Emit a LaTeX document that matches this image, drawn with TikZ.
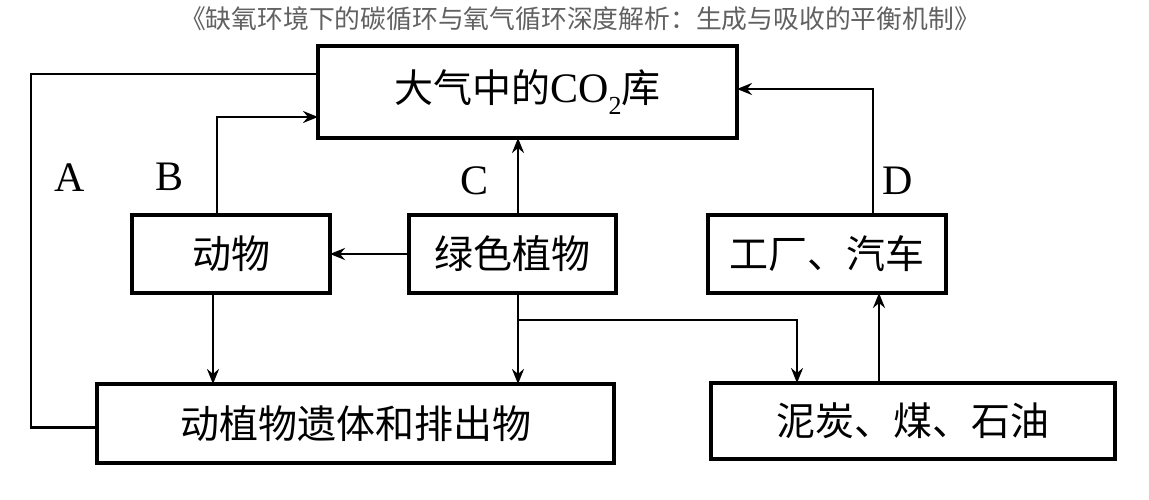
\documentclass[tikz,border=0pt]{standalone}
\usepackage{fontspec}
\setmainfont{Liberation Serif}
\newfontfamily\cjk{Noto Sans CJK SC}
\usetikzlibrary{arrows.meta}
\tikzset{
  box/.style={draw=black, line width=3.2pt, rectangle, inner sep=0pt, outer sep=0pt,
    font=\cjk\fontsize{39}{39}\selectfont, text=black},
  conn/.style={draw=black, line width=2.8pt},
  arr/.style={conn, -{Stealth[length=15pt,width=12pt,inset=5pt]}},
  lab/.style={font=\fontsize{42}{42}\selectfont, text=black, inner sep=0pt},
  ttl/.style={font=\cjk\fontsize{25.8}{26}\selectfont, text=black!62, inner sep=0pt}
}
\begin{document}
\begin{tikzpicture}[x=1pt,y=-1pt]
\useasboundingbox (0,0) rectangle (1149,500);
\node[ttl] (title) at (580,19) {《缺氧环境下的碳循环与氧气循环深度解析：生成与吸收的平衡机制》};
\node[box, minimum width=419pt, minimum height=92pt] (co2) at (527.5,92)
  {大气中的{\rmfamily\fontsize{42}{42}\selectfont CO\raisebox{-0.28em}{\fontsize{26}{26}\selectfont 2}}库};
\node[box, minimum width=198pt, minimum height=78pt] (animal) at (231,254) {动物};
\node[box, minimum width=207pt, minimum height=78pt] (plant) at (512.5,254) {绿色植物};
\node[box, minimum width=238pt, minimum height=78pt] (factory) at (827,254) {工厂、汽车};
\node[box, minimum width=517pt, minimum height=79pt] (remains) at (355.5,423.5) {动植物遗体和排出物};
\node[box, minimum width=404pt, minimum height=76pt] (fossil) at (913,421) {泥炭、煤、石油};

\node[lab] (lA) at (70,178) {A};
\node[lab] (lB) at (170,177) {B};
\node[lab] (lC) at (475,181) {C};
\node[lab] (lD) at (898,181) {D};

% A
\draw[conn] ([yshift=-4pt]remains.west) -- ++(-66,0) |- ([yshift=18pt]co2.west);
% B
\draw[arr] ([xshift=-14pt]animal.north) |- ([yshift=-25pt]co2.west);
% C
\draw[arr] ([xshift=5.5pt]plant.north) -- ([xshift=5.5pt]plant.north |- co2.south);
% D
\draw[arr] ([xshift=46pt]factory.north) |- ([yshift=3pt]co2.east);
% plant -> animal
\draw[arr] (plant.west) -- (animal.east);
% animal -> remains
\draw[arr] ([xshift=-18pt]animal.south) -- ([xshift=-18pt]animal.south |- remains.north);
% plant -> remains
\draw[arr] ([xshift=5.5pt]plant.south) -- ([xshift=5.5pt]plant.south |- remains.north);
% plant -> fossil
\coordinate (br) at ([xshift=5.5pt,yshift=-27pt]plant.south);
\draw[arr] (br) -| ([xshift=-116pt]fossil.north);
% fossil -> factory
\draw[arr] ([xshift=-34pt]fossil.north) -- ([xshift=-34pt]fossil.north |- factory.south);
\end{tikzpicture}
\end{document}
